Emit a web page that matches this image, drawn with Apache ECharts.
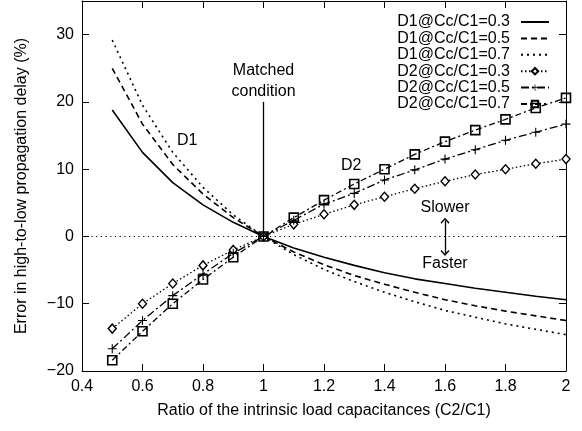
<!DOCTYPE html>
<html>
<head>
<meta charset="utf-8">
<script src="https://cdn.jsdelivr.net/npm/echarts@6/dist/echarts.min.js"></script>
<style>
html,body{margin:0;padding:0;background:#fff;}
#c{width:582px;height:431px;}
</style>
</head>
<body>
<div id="c"></div>
<script>
const ratios = [0.5,0.6,0.7,0.8,0.9,1.0,1.1,1.2,1.3,1.4,1.5,1.6,1.7,1.8,1.9,2.0];
const d1_03 = [18.8,12.5,8.0,4.7,2.1,0,-1.7,-3.1,-4.3,-5.4,-6.3,-7.0,-7.7,-8.3,-8.9,-9.4];
const d1_05 = [25.0,16.7,10.7,6.3,2.8,0,-2.3,-4.2,-5.8,-7.1,-8.3,-9.4,-10.3,-11.1,-11.8,-12.5];
const d1_07 = [29.2,19.5,12.5,7.3,3.2,0,-2.7,-4.9,-6.7,-8.3,-9.7,-11.0,-12.0,-13.0,-13.8,-14.6];
const d2_03 = [-13.7,-10.0,-7.0,-4.3,-2.0,0,1.8,3.3,4.7,5.9,7.1,8.2,9.2,10.0,10.8,11.5];
const d2_05 = [-16.7,-12.5,-8.8,-5.6,-2.5,0,2.4,4.8,6.4,8.4,9.9,11.5,12.9,14.3,15.5,16.7];
const d2_07 = [-18.4,-14.1,-10.0,-6.4,-3.1,0,2.8,5.4,7.8,10.0,12.2,14.1,15.8,17.4,19.1,20.6];
const seriesNames = ['D1@Cc/C1=0.3','D1@Cc/C1=0.5','D1@Cc/C1=0.7','D2@Cc/C1=0.3','D2@Cc/C1=0.5','D2@Cc/C1=0.7'];
const xTicks = [0.4,0.6,0.8,1,1.2,1.4,1.6,1.8,2];
const yTicks = [-20,-10,0,10,20,30];

const FONT = "'Liberation Sans', Arial, Helvetica, sans-serif";
const pair = arr => ratios.map((x,i)=>[x,arr[i]]);
const plusPath = 'path://M4.4 0H5.6V4.4H10V5.6H5.6V10H4.4V5.6H0V4.4H4.4Z';
const chevron = 'path://M5 0L10 5.6L8.9 6.8L5 2.4L1.1 6.8L0 5.6Z';
const fmt = v => String(v).replace('-', '\u2212');

const chart = echarts.init(document.getElementById('c'), null, {renderer:'canvas'});
const axisCommon = {
  axisLine:{show:true, onZero:false, lineStyle:{color:'#000', width:1}},
  axisTick:{show:true, inside:true, length:7, lineStyle:{color:'#000', width:1}},
  splitLine:{show:false}
};
const hiddenSym = {symbol:'circle', showSymbol:false, itemStyle:{color:'rgba(0,0,0,0)', borderWidth:0}};
const option = {
  backgroundColor:'#fff',
  animation:false,
  textStyle:{fontFamily:FONT, color:'#000'},
  grid:{left:82, right:16, top:1, bottom:60, containLabel:false},
  legend:{
    data:seriesNames,
    orient:'vertical', align:'right',
    right:27, top:9,
    itemWidth:28, itemHeight:8, itemGap:0.4,
    textStyle:{fontFamily:FONT, fontSize:16, color:'#000', lineHeight:14, padding:[0,6,0,0]},
    inactiveColor:'#000'
  },
  xAxis:[
    Object.assign({type:'value', position:'bottom', min:0.4, max:2, interval:0.2,
      name:'Ratio of the intrinsic load capacitances (C2/C1)', nameLocation:'middle', nameGap:32,
      nameTextStyle:{fontFamily:FONT, fontSize:16, color:'#000'},
      axisLabel:{fontFamily:FONT, fontSize:16, color:'#000', margin:8,
        formatter:v=>{const t=xTicks.find(x=>Math.abs(x-v)<1e-6); return t===undefined?'':String(t);}}
    }, axisCommon),
    Object.assign({type:'value', position:'top', min:0.4, max:2, interval:0.2, axisLabel:{show:false}}, axisCommon)
  ],
  yAxis:[
    Object.assign({type:'value', position:'left', min:-20, max:35, interval:10,
      name:'Error in high-to-low propagation delay (%)', nameLocation:'middle', nameGap:52, nameRotate:90,
      nameTextStyle:{fontFamily:FONT, fontSize:16, color:'#000'},
      axisLabel:{fontFamily:FONT, fontSize:16, color:'#000', margin:8, showMaxLabel:false,
        formatter:v=> yTicks.includes(v) ? fmt(v) : ''}
    }, axisCommon),
    Object.assign({type:'value', position:'right', min:-20, max:35, interval:10, axisLabel:{show:false}}, axisCommon)
  ],
  series:[
    Object.assign({name:seriesNames[0], type:'line', data:pair(d1_03), z:3,
      lineStyle:{color:'#000', width:1.6, type:'solid'}}, hiddenSym),
    Object.assign({name:seriesNames[1], type:'line', data:pair(d1_05), z:3,
      lineStyle:{color:'#000', width:1.6, type:[6,4]}}, hiddenSym),
    Object.assign({name:seriesNames[2], type:'line', data:pair(d1_07), z:3,
      lineStyle:{color:'#000', width:1.6, type:[2,4]}}, hiddenSym),
    {name:seriesNames[3], type:'line', data:pair(d2_03), symbol:'diamond', symbolSize:[8,9], z:4,
      lineStyle:{color:'#000', width:1.3, type:[1.5,2.5]},
      itemStyle:{color:'#fff', borderColor:'#000', borderWidth:1.4}},
    {name:seriesNames[4], type:'line', data:pair(d2_05), symbol:plusPath, symbolSize:9, z:4,
      lineStyle:{color:'#000', width:1.3, type:[8,3,2,3]},
      itemStyle:{color:'#000', borderWidth:0}},
    {name:seriesNames[5], type:'line', data:pair(d2_07), symbol:'rect', symbolSize:9, z:4,
      lineStyle:{color:'#000', width:1.3, type:[6,3,2,3]},
      itemStyle:{color:'rgba(255,255,255,0)', borderColor:'#000', borderWidth:1.6}},
    {name:'zeroLine', type:'line', data:[], z:2,
      markLine:{
        silent:true, animation:false, symbol:'none', label:{show:false},
        lineStyle:{color:'#000', width:1.2, type:[1.2,3.5]},
        data:[{yAxis:0}]
      }
    },
    {name:'matchArrow', type:'line', data:[], z:5,
      markLine:{
        silent:true, animation:false, symbol:['none', chevron], symbolSize:[9,6], label:{show:false},
        lineStyle:{color:'#000', width:1.3, type:'solid'}, itemStyle:{color:'#000'},
        data:[[{coord:[1,20.0]},{coord:[1,0.25]}]]
      },
      markPoint:{
        silent:true, animation:false,
        symbol:'circle', symbolSize:1,
        itemStyle:{color:'rgba(0,0,0,0)'},
        label:{show:true, position:'inside', color:'#000', fontFamily:FONT, fontSize:16, lineHeight:20.6},
        data:[
          {coord:[1,23.05], label:{formatter:'Matched\ncondition'}},
          {coord:[0.748,14.2], label:{formatter:'D1'}},
          {coord:[1.29,10.5], label:{formatter:'D2'}},
          {coord:[1.6,4.3], label:{formatter:'Slower'}},
          {coord:[1.6,-4.1], label:{formatter:'Faster'}}
        ]
      }
    },
    {name:'speedArrow', type:'line', data:[], z:5,
      markLine:{
        silent:true, animation:false, symbol:[chevron, chevron], symbolSize:[9,6], label:{show:false},
        lineStyle:{color:'#000', width:1.3, type:'solid'}, itemStyle:{color:'#000'},
        data:[[{coord:[1.6,2.35]},{coord:[1.6,-2.45]}]]
      }
    }
  ]
};
chart.setOption(option);
</script>
</body>
</html>
